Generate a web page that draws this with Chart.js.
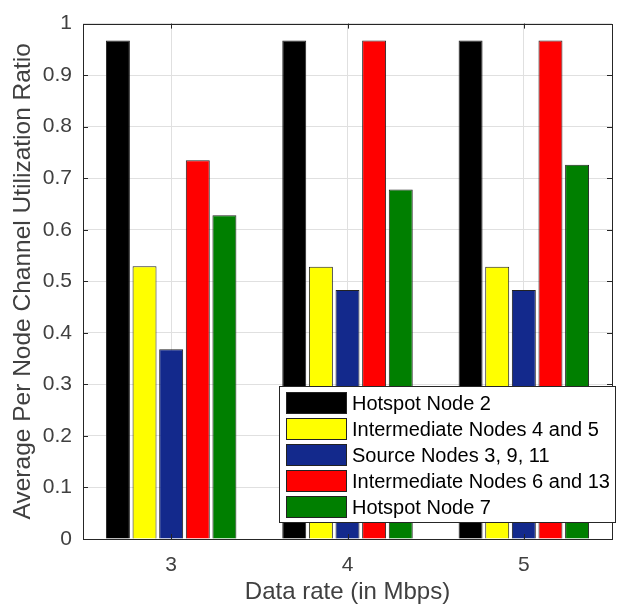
<!DOCTYPE html>
<html>
<head>
<meta charset="utf-8">
<title>Channel utilization</title>
<script src="https://cdn.jsdelivr.net/npm/chart.js@4"></script>
<style>
    html, body { margin: 0; padding: 0; background: #ffffff; }
    #wrap { width: 618px; height: 613px; }
</style>
</head>
<body>
<div id="wrap"><canvas id="utilChart" width="618" height="613"></canvas></div>
<script>
// data
const dataRates = ['3', '4', '5'];
const seriesNames = [
    'Hotspot Node 2',
    'Intermediate Nodes 4 and 5',
    'Source Nodes 3, 9, 11',
    'Intermediate Nodes 6 and 13',
    'Hotspot Node 7'
];
const hotspotNode2 = [0.967, 0.967, 0.967];
const intermediate45 = [0.529, 0.528, 0.528];
const sourceNodes = [0.368, 0.483, 0.483];
const intermediate613 = [0.735, 0.967, 0.967];
const hotspotNode7 = [0.628, 0.678, 0.726];
const seriesColors = ['#000000', '#ffff00', '#13298c', '#ff0000', '#007f00'];
const yTickValues = [0, 0.1, 0.2, 0.3, 0.4, 0.5, 0.6, 0.7, 0.8, 0.9, 1];

const fontFamily = '"Liberation Sans", Arial, Helvetica, sans-serif';
const textColor = '#404040';
const axisColor = '#262626';

const seriesValues = [hotspotNode2, intermediate45, sourceNodes, intermediate613, hotspotNode7];

const datasets = seriesNames.map((name, i) => ({
    label: name,
    data: seriesValues[i],
    backgroundColor: seriesColors[i],
    borderColor: '#222222',
    borderWidth: 1,
    categoryPercentage: 0.755,
    barPercentage: 0.9
}));

// box round the axes plus inward tick marks, matlab style
const framePlugin = {
    id: 'frame',
    afterDatasetsDraw(chart) {
        const ctx = chart.ctx;
        const area = chart.chartArea;
        const xScale = chart.scales.x;
        const yScale = chart.scales.y;
        ctx.save();
        ctx.strokeStyle = axisColor;
        ctx.lineWidth = 1;
        ctx.beginPath();
        yTickValues.forEach(v => {
            const y = Math.round(yScale.getPixelForValue(v)) + 0.5;
            ctx.moveTo(area.left, y);
            ctx.lineTo(area.left + 5, y);
            ctx.moveTo(area.right, y);
            ctx.lineTo(area.right - 5, y);
        });
        dataRates.forEach((_, i) => {
            const x = Math.round(xScale.getPixelForValue(i)) + 0.5;
            ctx.moveTo(x, area.top);
            ctx.lineTo(x, area.top + 5);
            ctx.moveTo(x, area.bottom);
            ctx.lineTo(x, area.bottom - 5);
        });
        ctx.stroke();
        ctx.strokeRect(Math.round(area.left) + 0.5, Math.round(area.top) + 0.5,
            Math.round(area.right - area.left), Math.round(area.bottom - area.top));
        ctx.restore();
    }
};

// legend sits inside the axes, bottom right
const boxLegendPlugin = {
    id: 'boxLegend',
    afterDraw(chart) {
        const ctx = chart.ctx;
        const area = chart.chartArea;
        const rowH = 26;
        const boxRight = area.right + 3;
        const boxLeft = area.left + 196;
        const boxBottom = area.bottom - 17;
        const boxTop = boxBottom - rowH * seriesNames.length - 6;
        ctx.save();
        ctx.fillStyle = '#ffffff';
        ctx.fillRect(boxLeft, boxTop, boxRight - boxLeft, boxBottom - boxTop);
        ctx.strokeStyle = axisColor;
        ctx.lineWidth = 1;
        ctx.strokeRect(boxLeft + 0.5, boxTop + 0.5, boxRight - boxLeft, boxBottom - boxTop);
        ctx.font = '20px ' + fontFamily;
        ctx.textBaseline = 'middle';
        ctx.textAlign = 'left';
        chart.data.datasets.forEach((ds, i) => {
            const cy = boxTop + 4 + rowH * i + rowH / 2;
            ctx.fillStyle = ds.backgroundColor;
            ctx.fillRect(boxLeft + 7, cy - 11, 61, 22);
            ctx.strokeStyle = '#222222';
            ctx.strokeRect(boxLeft + 7.5, cy - 10.5, 60, 21);
            ctx.fillStyle = '#000000';
            ctx.fillText(ds.label, boxLeft + 73, cy + 1);
        });
        ctx.restore();
    }
};

new Chart(document.getElementById('utilChart'), {
    type: 'bar',
    data: {
        labels: dataRates,
        datasets: datasets
    },
    options: {
        responsive: false,
        animation: false,
        events: [],
        layout: {
            padding: { left: 0, right: 6, top: 7, bottom: 0 }
        },
        plugins: {
            legend: { display: false },
            tooltip: { enabled: false }
        },
        scales: {
            x: {
                offset: true,
                grid: {
                    offset: false,
                    color: '#e0e0e0',
                    drawTicks: false
                },
                border: { display: false },
                ticks: {
                    color: textColor,
                    padding: 14,
                    font: { family: fontFamily, size: 21 }
                },
                title: {
                    display: true,
                    text: 'Data rate (in Mbps)',
                    color: textColor,
                    padding: { top: 0, bottom: 6 },
                    font: { family: fontFamily, size: 24 }
                },
                afterFit: (scale) => { scale.height = 74; }
            },
            y: {
                min: 0,
                max: 1,
                grid: {
                    color: '#e0e0e0',
                    drawTicks: false
                },
                border: { display: false },
                afterBuildTicks: (scale) => {
                    scale.ticks = yTickValues.map(v => ({ value: v }));
                },
                ticks: {
                    color: textColor,
                    padding: 11,
                    font: { family: fontFamily, size: 21 },
                    callback: (v) => String(v)
                },
                title: {
                    display: true,
                    text: 'Average Per Node Channel Utilization Ratio',
                    color: textColor,
                    padding: { top: 9, bottom: 0 },
                    font: { family: fontFamily, size: 24.5 }
                },
                afterFit: (scale) => { scale.width = 83; }
            }
        }
    },
    plugins: [framePlugin, boxLegendPlugin]
});
</script>
</body>
</html>
